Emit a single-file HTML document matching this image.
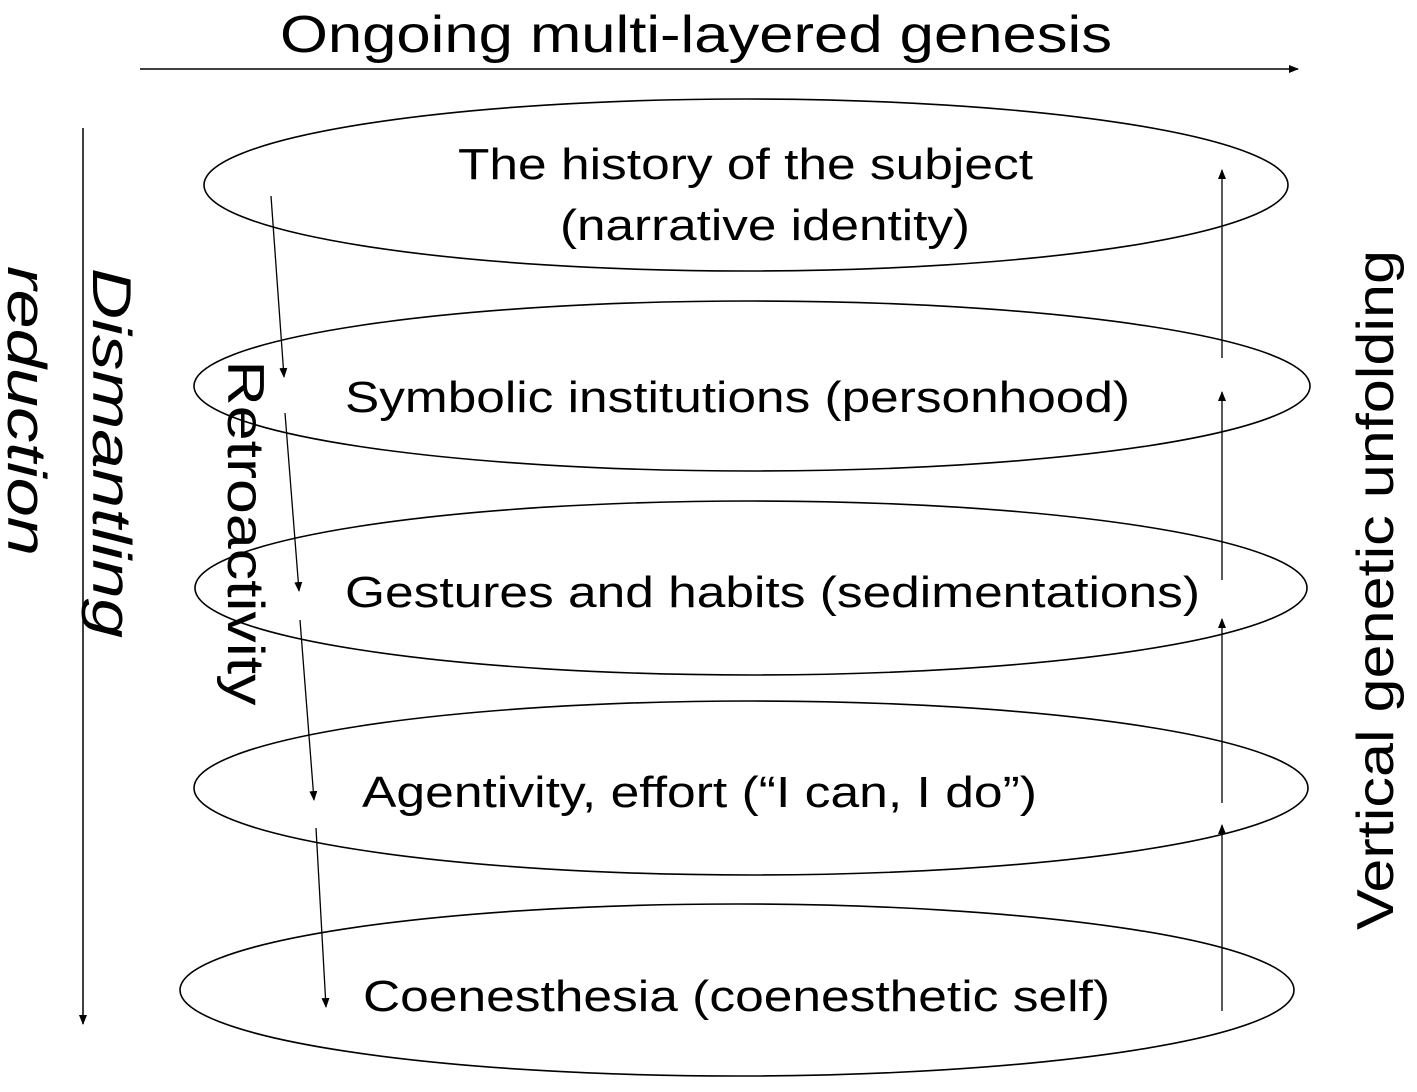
<!DOCTYPE html>
<html><head><meta charset="utf-8"><style>html,body{margin:0;padding:0;background:#fff}</style></head>
<body>
<svg width="1417" height="1087" viewBox="0 0 1417 1087" xmlns="http://www.w3.org/2000/svg" font-family="Liberation Sans, Arial, sans-serif">
<defs>
<marker id="a" markerWidth="10" markerHeight="8" refX="9" refY="4" orient="auto" markerUnits="userSpaceOnUse">
<path d="M0,0 L10,4 L0,8 z" fill="#000"/>
</marker>
</defs>
<rect width="1417" height="1087" fill="#fff"/>
<text x="280" y="52" font-size="52" textLength="832" lengthAdjust="spacingAndGlyphs">Ongoing multi-layered genesis</text>
<line x1="140" y1="69" x2="1298" y2="69" stroke="#000" stroke-width="1.5" marker-end="url(#a)"/>
<line x1="83" y1="128" x2="83" y2="1024" stroke="#000" stroke-width="1.5" marker-end="url(#a)"/>
<g fill="none" stroke="#000" stroke-width="1.6">
<ellipse cx="746" cy="185" rx="542" ry="86"/>
<ellipse cx="752" cy="386" rx="558" ry="85"/>
<ellipse cx="751" cy="588" rx="556" ry="87"/>
<ellipse cx="751" cy="788" rx="557" ry="87"/>
<ellipse cx="737" cy="990" rx="557" ry="86"/>
</g>
<g stroke="#000" stroke-width="1.3" marker-end="url(#a)">
<line x1="1222" y1="358" x2="1222" y2="170"/>
<line x1="1222" y1="580" x2="1222" y2="392"/>
<line x1="1222" y1="803" x2="1222" y2="619"/>
<line x1="1222" y1="1011" x2="1222" y2="825"/>
<line x1="271" y1="196" x2="284" y2="377"/>
<line x1="285" y1="413" x2="299" y2="591"/>
<line x1="300" y1="620" x2="314" y2="800"/>
<line x1="316" y1="828" x2="326" y2="1007"/>
</g>
<g font-size="44" lengthAdjust="spacingAndGlyphs">
<text x="458" y="179" textLength="575" lengthAdjust="spacingAndGlyphs">The history of the subject</text>
<text x="560" y="240" textLength="410" lengthAdjust="spacingAndGlyphs">(narrative identity)</text>
<text x="345" y="412" textLength="785" lengthAdjust="spacingAndGlyphs">Symbolic institutions (personhood)</text>
<text x="345" y="607" textLength="855" lengthAdjust="spacingAndGlyphs">Gestures and habits (sedimentations)</text>
<text x="362" y="807" textLength="675" lengthAdjust="spacingAndGlyphs">Agentivity, effort (“I can, I do”)</text>
<text x="363" y="1011" textLength="747" lengthAdjust="spacingAndGlyphs">Coenesthesia (coenesthetic self)</text>
</g>
<text transform="translate(1393,590) rotate(-90)" font-size="52" text-anchor="middle" textLength="680" lengthAdjust="spacingAndGlyphs">Vertical genetic unfolding</text>
<text transform="translate(93,453) rotate(90)" font-size="55" font-style="italic" text-anchor="middle" textLength="370" lengthAdjust="spacingAndGlyphs">Dismantling</text>
<text transform="translate(8,411) rotate(90)" font-size="55" font-style="italic" text-anchor="middle" textLength="290" lengthAdjust="spacingAndGlyphs">reduction</text>
<text transform="translate(228,533) rotate(90)" font-size="52" text-anchor="middle" textLength="345" lengthAdjust="spacingAndGlyphs">Retroactivity</text>
</svg>
</body></html>
